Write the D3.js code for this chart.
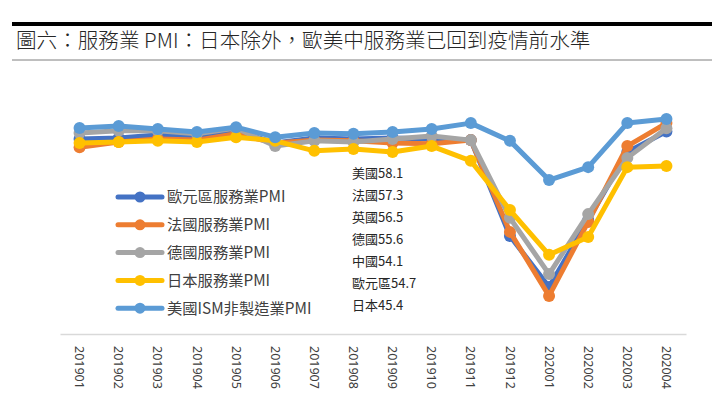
<!DOCTYPE html>
<html>
<head>
<meta charset="utf-8">
<script src="https://cdn.jsdelivr.net/npm/d3@7"></script>
<style>
  body { margin: 0; background: #fff; }
  svg { display: block; font-family: "Noto Sans CJK TC", "Noto Sans", sans-serif; }
</style>
</head>
<body>
<div id="chart"></div>
<script>
const months = ['201901','201902','201903','201904','201905','201906','201907','201908',
                '201909','201910','201911','201912','202001','202002','202003','202004'];

const eurozone = [52.7, 53.0, 53.8, 53.2, 54.9, 51.6, 53.0, 52.7, 53.0, 52.7, 52.4, 26.5, 12.7, 30.8, 49.2, 54.7];
const france   = [50.5, 51.9, 52.7, 52.4, 54.1, 51.6, 52.4, 52.2, 51.6, 51.4, 52.4, 27.6, 10.3, 30.3, 50.8, 57.0];
const germany  = [54.3, 54.9, 54.9, 54.1, 55.7, 50.8, 52.2, 51.9, 52.7, 53.5, 52.4, 31.4, 16.2, 32.4, 47.6, 55.6];
const japan    = [51.6, 51.9, 52.2, 51.9, 53.2, 52.2, 49.5, 50.0, 49.2, 50.8, 46.8, 33.5, 21.4, 26.2, 45.1, 45.4];
const usIsm    = [55.7, 56.2, 55.4, 54.6, 55.9, 53.2, 54.3, 54.1, 54.6, 55.4, 57.0, 52.2, 41.6, 45.1, 57.0, 58.1];

const seriesNames = ['歐元區服務業PMI', '法國服務業PMI', '德國服務業PMI', '日本服務業PMI', '美國ISM非製造業PMI'];
const seriesColors = ['#4472C4', '#ED7D31', '#A5A5A5', '#FFC000', '#5B9BD5'];
const seriesValues = [eurozone, france, germany, japan, usIsm];

const latestLabels = ['美國58.1', '法國57.3', '英國56.5', '德國55.6', '中國54.1', '歐元區54.7', '日本45.4'];

const title = '圖六：服務業 PMI：日本除外，歐美中服務業已回到疫情前水準';

const width = 720, height = 396;

const svg = d3.select('#chart').append('svg')
  .attr('width', width)
  .attr('height', height);

// header rules + title
svg.append('line')
  .attr('x1', 12).attr('x2', 712).attr('y1', 24).attr('y2', 24)
  .attr('stroke', '#000').attr('stroke-width', 4);
svg.append('line')
  .attr('x1', 12).attr('x2', 712).attr('y1', 60).attr('y2', 60)
  .attr('stroke', '#7f7f7f').attr('stroke-width', 1);
svg.append('text')
  .attr('x', 16).attr('y', 48)
  .attr('font-size', 20.6)
  .attr('font-weight', 300)
  .attr('fill', '#262626')
  .text(title);

const x = d3.scaleBand().domain(months).range([60, 686]);
const y = d3.scaleLinear().domain([0, 70]).range([334, 75]);

// x axis
const axis = svg.append('g')
  .attr('transform', 'translate(0,334)')
  .call(d3.axisBottom(x).tickSize(0).tickSizeOuter(0));
axis.select('.domain').attr('stroke', '#d9d9d9').attr('stroke-width', 1.5);
axis.selectAll('text')
  .attr('transform', 'rotate(90)')
  .attr('x', 12)
  .attr('y', 0)
  .attr('dy', '0.35em')
  .attr('text-anchor', 'start')
  .attr('font-size', 12.5)
  .attr('font-family', '"Noto Sans", sans-serif')
  .attr('fill', '#404040');

const line = d3.line()
  .x((d, i) => x(months[i]) + x.bandwidth() / 2)
  .y(d => y(d));

seriesValues.forEach((vals, s) => {
  const g = svg.append('g');
  g.append('path')
    .datum(vals)
    .attr('d', line)
    .attr('fill', 'none')
    .attr('stroke', seriesColors[s])
    .attr('stroke-width', 5)
    .attr('stroke-linejoin', 'round')
    .attr('stroke-linecap', 'round');
  g.selectAll('circle')
    .data(vals)
    .enter()
    .append('circle')
    .attr('cx', (d, i) => x(months[i]) + x.bandwidth() / 2)
    .attr('cy', d => y(d))
    .attr('r', 6)
    .attr('fill', seriesColors[s]);
});

// legend
const legend = svg.append('g');
seriesNames.forEach((name, i) => {
  const ly = 197 + i * 27.8;
  legend.append('line')
    .attr('x1', 118).attr('x2', 162).attr('y1', ly).attr('y2', ly)
    .attr('stroke', seriesColors[i]).attr('stroke-width', 5)
    .attr('stroke-linecap', 'round');
  legend.append('circle')
    .attr('cx', 140).attr('cy', ly).attr('r', 5.5)
    .attr('fill', seriesColors[i]);
  legend.append('text')
    .attr('x', 167).attr('y', ly)
    .attr('dy', '0.35em')
    .attr('font-size', 15.3)
    .attr('fill', '#404040')
    .text(name);
});

// latest readings annotation
svg.append('g').selectAll('text')
  .data(latestLabels)
  .enter()
  .append('text')
  .attr('x', 352)
  .attr('y', (d, i) => 173 + i * 22)
  .attr('dy', '0.35em')
  .attr('font-size', 13)
  .attr('fill', '#262626')
  .text(d => d);
</script>
</body>
</html>
